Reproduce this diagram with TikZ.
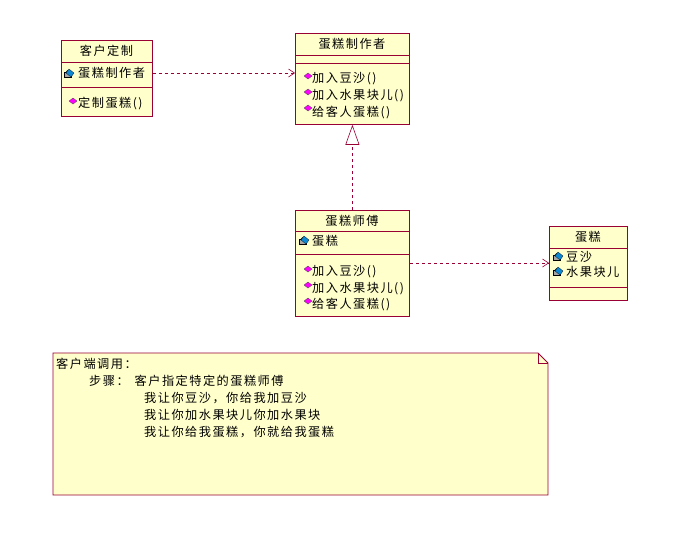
\documentclass[tikz,border=0pt]{standalone}
\usepackage{fontspec}
\setmainfont[LetterSpace=12]{Noto Sans CJK SC}
\usetikzlibrary{arrows.meta}
\definecolor{bx}{HTML}{FFFFCC}
\definecolor{bd}{HTML}{990033}
\definecolor{mg}{HTML}{FF00FF}
\tikzset{
 cls/.style={draw=bd,fill=bx,line width=0.8pt,inner sep=0},
 sep/.style={draw=bd,line width=0.8pt},
 ttl/.style={font=\fontsize{12.2}{12}\selectfont,inner sep=0},
 itm/.style={font=\fontsize{12.2}{12}\selectfont,inner sep=0,anchor=west},
 dep/.style={draw=bd,dashed,line width=0.6pt,-{Straight Barb[length=6pt,width=8pt]}},
 gen/.style={draw=bd,dashed,line width=0.6pt,-{Triangle[open,length=20pt,width=14pt,fill=white]}}
}
\newcommand{\meth}[2]{\fill[mg,draw=black!70,line width=0.3pt] (#1,-#2) -- (#1+4,-#2-3) -- (#1+8,-#2) -- (#1+4,-#2+3) -- cycle;}
\newcommand{\attr}[2]{\fill[gray!70,draw=black,line width=0.3pt] (#1,-#2-4) rectangle (#1+7,-#2+1);\draw[black,line width=0.6pt] (#1+2,-#2+1) arc(180:0:1.5);\fill[cyan!70!blue,draw=black,line width=0.2pt] (#1+5,-#2+4) -- (#1+10,-#2) -- (#1+7,-#2-4) -- (#1+2,-#2) -- cycle;}
\begin{document}
\begin{tikzpicture}[x=1pt,y=1pt]
\useasboundingbox (0,0) rectangle (700,-536);
% customer
\node[cls,minimum width=91,minimum height=76,anchor=north west] (kh) at (61,-40) {};
\draw[sep] (61,-62) -- (152,-62); \draw[sep] (61,-87) -- (152,-87);
\node[ttl] (khT) at (106.5,-51) {客户定制};
\attr{64}{73}\node[itm] (khA) at (78,-73) {蛋糕制作者};
\meth{69}{101}\node[itm] (khM) at (78,-104) {定制蛋糕()};
% maker
\node[cls,minimum width=114,minimum height=91,anchor=north west] (zz) at (295,-33) {};
\draw[sep] (295,-55) -- (409,-55); \draw[sep] (295,-63) -- (409,-63);
\node[ttl] (zzT) at (352,-44) {蛋糕制作者};
\meth{304}{76}\node[itm] (zz1) at (312,-79) {加入豆沙()};
\meth{304}{92}\node[itm] (zz2) at (312,-96) {加入水果块儿()};
\meth{304}{108}\node[itm] (zz3) at (312,-113) {给客人蛋糕()};
% master
\node[cls,minimum width=114,minimum height=106,anchor=north west] (sf) at (295,-210) {};
\draw[sep] (295,-231) -- (409,-231); \draw[sep] (295,-254) -- (409,-254);
\node[ttl] (sfT) at (352,-220.5) {蛋糕师傅};
\attr{299}{240}\node[itm] (sfA) at (312,-241) {蛋糕};
\meth{304}{269}\node[itm] (sf1) at (312,-272) {加入豆沙()};
\meth{304}{285}\node[itm] (sf2) at (312,-289) {加入水果块儿()};
\meth{304}{301}\node[itm] (sf3) at (312,-305) {给客人蛋糕()};
% cake
\node[cls,minimum width=78,minimum height=74,anchor=north west] (dg) at (549,-226) {};
\draw[sep] (549,-248) -- (627,-248); \draw[sep] (549,-287) -- (627,-287);
\node[ttl] (dgT) at (588,-237) {蛋糕};
\attr{553}{256}\node[itm] (dg1) at (566,-257) {豆沙};
\attr{553}{271}\node[itm] (dg2) at (566,-272) {水果块儿};
% note
\filldraw[draw=bd,fill=bx,line width=0.8pt] (53,-353) -- (538,-353) -- (548,-363) -- (548,-495) -- (53,-495) -- cycle;
\draw[bd,line width=0.8pt] (538,-353) -- (538,-363) -- (548,-363);
\node[itm,anchor=north west,align=left,font=\fontsize{12.2}{17}\selectfont] (nt) at (56,-358) {客户端调用：\\
\hspace*{33pt}步骤：\hspace{6pt}客户指定特定的蛋糕师傅\\
\hspace*{88pt}我让你豆沙，你给我加豆沙\\
\hspace*{88pt}我让你加水果块儿你加水果块\\
\hspace*{88pt}我让你给我蛋糕，你就给我蛋糕};
% connectors
\draw[dep] (kh.east |- khA) -- (zz.west |- khA);
\draw[dep] (sf.east |- 0,-263) -- (dg.west |- 0,-263);
\draw[gen] (sf.north) -- (zz.south);
\end{tikzpicture}
\end{document}
